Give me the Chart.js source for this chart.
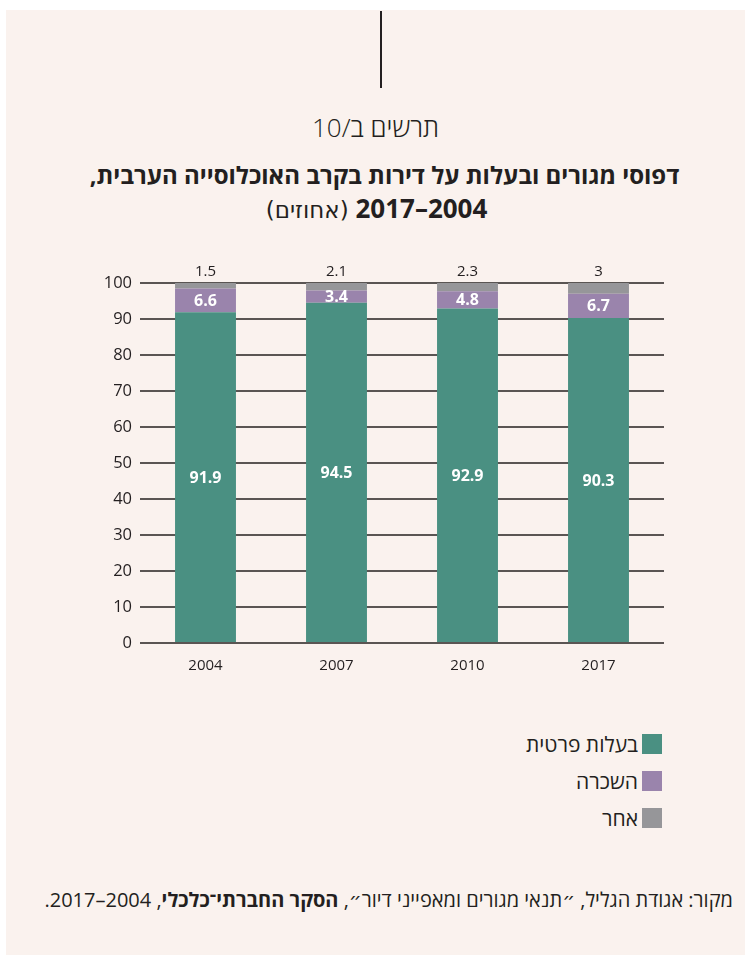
<!DOCTYPE html>
<html lang="he">
<head>
<meta charset="utf-8">
<script src="https://cdn.jsdelivr.net/npm/chart.js@4.4.0/dist/chart.umd.min.js"></script>
<style>
  html, body { margin: 0; padding: 0; background: #fff; }
  body { width: 745px; height: 955px; position: relative; overflow: hidden; font-family: "Open Sans", "DejaVu Sans", sans-serif; color: #231f20; }
  #panel { position: absolute; left: 6px; top: 10px; right: 0; bottom: 0; background: #faf2ee; }
  #vline { position: absolute; left: 380px; top: 11px; width: 2px; height: 77px; background: #231f20; }
  .center { position: absolute; width: 745px; text-align: center; direction: rtl; line-height: 1; }
  #fig { left: 3px; top: 114px; font-size: 26px; font-weight: 300; }
  #title1 { left: 12px; top: 163px; font-size: 24px; font-weight: 700; }
  #title2 { left: 4px; top: 195px; font-size: 26px; }
  #title2 .pct { font-family: "DejaVu Sans", sans-serif; font-size: 23px; }
  #chartBox { position: absolute; left: 6px; top: 250px; width: 739px; height: 440px; }
  #legend { position: absolute; right: 83px; top: 734px; direction: rtl; font-size: 21px; }
  #legend div { display: flex; align-items: center; height: 20px; margin-bottom: 17px; }
  #legend span.sw { display: inline-block; width: 20px; height: 20px; margin-left: 4px; }
  #source { position: absolute; right: 12px; top: 888px; direction: rtl; font-size: 20px; line-height: 1.2; }
</style>
</head>
<body>
<div id="panel"></div>
<div id="vline"></div>
<div class="center" id="fig">תרשים ב/10</div>
<div class="center" id="title1">דפוסי מגורים ובעלות על דירות בקרב האוכלוסייה הערבית,</div>
<div class="center" id="title2"><b>2004–2017</b> <span class="pct">(אחוזים)</span></div>
<div id="chartBox"><canvas id="chart"></canvas></div>
<div id="legend"></div>
<div id="source">מקור: אגודת הגליל, ״תנאי מגורים ומאפייני דיור״, <b>הסקר החברתי־כלכלי</b>, 2004–2017.</div>
<script>
// נתונים
const years = ['2004', '2007', '2010', '2017'];
const seriesNames = ['בעלות פרטית', 'השכרה', 'אחר'];
const ownership = [91.9, 94.5, 92.9, 90.3];
const renting = [6.6, 3.4, 4.8, 6.7];
const other = [1.5, 2.1, 2.3, 3];
const yTicks = [0, 10, 20, 30, 40, 50, 60, 70, 80, 90, 100];

const colors = ['#4a9082', '#9a84ac', '#969699'];

// legend (html)
const legendEl = document.getElementById('legend');
seriesNames.forEach((name, i) => {
  const row = document.createElement('div');
  row.innerHTML = `<span class="sw" style="background:${colors[i]}"></span><span>${name}</span>`;
  legendEl.appendChild(row);
});

// תוויות ערכים
const valueLabels = {
  id: 'valueLabels',
  afterDatasetsDraw(chart) {
    const ctx = chart.ctx;
    ctx.save();
    ctx.textAlign = 'center';
    ctx.textBaseline = 'middle';
    chart.data.datasets.forEach((ds, di) => {
      const meta = chart.getDatasetMeta(di);
      meta.data.forEach((bar, i) => {
        const v = ds.data[i];
        if (di === 2) {
          ctx.fillStyle = '#231f20';
          ctx.font = '15px "Open Sans", sans-serif';
          ctx.fillText(String(v), bar.x, chart.chartArea.top - 11);
        } else {
          ctx.fillStyle = '#ffffff';
          ctx.font = 'bold 16px "Open Sans", sans-serif';
          ctx.fillText(String(v), bar.x, (bar.y + bar.base) / 2 + 1);
        }
      });
    });
    ctx.restore();
  }
};

new Chart(document.getElementById('chart'), {
  type: 'bar',
  data: {
    labels: years,
    datasets: [
      { label: seriesNames[0], data: ownership, backgroundColor: colors[0] },
      { label: seriesNames[1], data: renting, backgroundColor: colors[1] },
      { label: seriesNames[2], data: other, backgroundColor: colors[2] }
    ]
  },
  options: {
    responsive: true,
    maintainAspectRatio: false,
    animation: false,
    datasets: { bar: { barPercentage: 0.465, categoryPercentage: 1 } },
    layout: { padding: { top: 33, right: 81, left: 0, bottom: 0 } },
    plugins: { legend: { display: false }, tooltip: { enabled: false } },
    scales: {
      x: {
        stacked: true,
        grid: { display: false, drawTicks: false },
        border: { display: false },
        ticks: { color: '#231f20', font: { size: 15, family: '"Open Sans", sans-serif' }, padding: 14 },
        afterFit(s) { s.height = 47; }
      },
      y: {
        stacked: true,
        min: 0,
        max: 100,
        afterBuildTicks(s) { s.ticks = yTicks.map(v => ({ value: v })); },
        grid: { color: '#5a5553', lineWidth: 2, drawTicks: false },
        border: { display: false },
        ticks: { color: '#231f20', font: { size: 16.5, family: '"Open Sans", sans-serif' }, padding: 8 },
        afterFit(s) { s.width = 134; }
      }
    }
  },
  plugins: [valueLabels]
});
</script>
</body>
</html>
